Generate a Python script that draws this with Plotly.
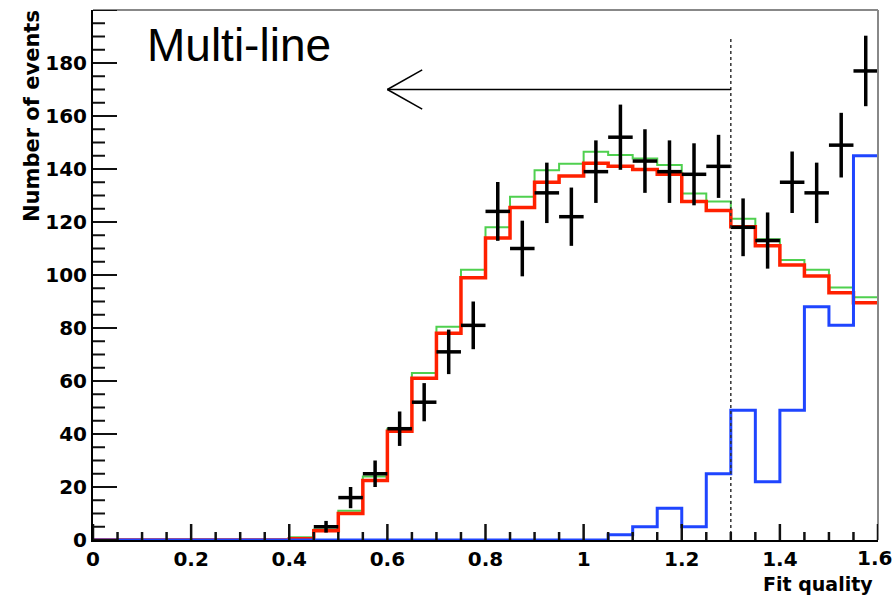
import numpy as np
import plotly.graph_objects as go

# ---------------- data ----------------
bin_edges = [round(i * 0.05, 2) for i in range(33)]  # 0.00 ... 1.60

green_counts = [0, 0, 0, 0, 0, 0, 0, 0,
                1, 4, 11, 24, 42, 63, 80.5, 102, 118, 129.5, 139.5, 142,
                146.5, 145.3, 144, 141.5, 130.8, 127.7, 121.2, 113.5, 105.7, 102, 95.3, 91.6]
red_counts = [0, 0, 0, 0, 0, 0, 0, 0,
              0.5, 3.5, 10, 22.5, 41, 61, 78, 99, 114, 125.5, 135, 137.4,
              142.2, 141, 139.8, 138, 127.7, 124.3, 118.2, 111, 103.8, 99.6, 93.3, 89.5]
blue_counts = [0, 0, 0, 0, 0, 0, 0, 0, 0, 0, 0, 0, 0, 0, 0, 0, 0, 0, 0, 0, 0,
               2, 5, 12, 5, 25, 49, 22, 49, 88, 81, 145]

data_x = [0.475, 0.525, 0.575, 0.625, 0.675, 0.725, 0.775, 0.825, 0.875, 0.925, 0.975,
          1.025, 1.075, 1.125, 1.175, 1.225, 1.275, 1.325, 1.375, 1.425, 1.475, 1.525, 1.575]
data_y = [5, 16, 25, 42, 52, 71, 81, 124, 110, 131, 122,
          139, 152, 143, 139, 138, 141, 118, 113, 135, 131, 149, 177]
data_err = [2.2, 4, 5, 6.5, 7.2, 8.4, 9, 11.1, 10.5, 11.4, 11,
            11.8, 12.3, 12, 11.8, 11.7, 11.9, 10.9, 10.6, 11.6, 11.4, 12.2, 13.3]
half_bin = 0.025

x_tickvals = [0, 0.2, 0.4, 0.6, 0.8, 1.0, 1.2, 1.4]
x_ticktext = ["0", "0.2", "0.4", "0.6", "0.8", "1", "1.2", "1.4"]
last_x_label = "1.6"
y_tickvals = [0, 20, 40, 60, 80, 100, 120, 140, 160, 180]

cut_value = 1.3
cut_top = 190
arrow_y = 170
arrow_tip = 0.6
arrow_head_dx = 0.071
arrow_head_dy = 7.4

title_text = "Multi-line"
x_title = "Fit quality"
y_title = "Number of events"

X_RANGE = [0, 1.6]
Y_RANGE = [0, 200]

# ---------------- figure ----------------
def step_xy(counts):
    return bin_edges, list(counts) + [counts[-1]]

fig = go.Figure()

for counts, color, width in [(green_counts, "#4fd04f", 2),
                             (red_counts, "#ff2000", 3.5),
                             (blue_counts, "#1f45ff", 3)]:
    sx, sy = step_xy(counts)
    fig.add_trace(go.Scatter(x=sx, y=sy, mode="lines", line_shape="hv",
                             line=dict(color=color, width=width),
                             showlegend=False, hoverinfo="skip"))

fig.add_trace(go.Scatter(
    x=data_x, y=data_y, mode="markers",
    marker=dict(size=1, color="black"),
    error_x=dict(type="constant", value=half_bin, color="black", thickness=3.5, width=0),
    error_y=dict(type="data", array=data_err, color="black", thickness=3.5, width=0),
    showlegend=False))

axis_font = dict(family="DejaVu Sans", size=20, color="black", weight="bold")

fig.update_xaxes(range=X_RANGE, tickmode="array", automargin=False,
                 tickvals=x_tickvals, ticktext=x_ticktext,
                 ticks="", showline=True, linecolor="black", linewidth=2,
                 showgrid=False, zeroline=False, tickfont=axis_font)
fig.update_yaxes(range=Y_RANGE, tickmode="array", tickvals=y_tickvals, automargin=False,
                 ticks="", showline=True, linecolor="black", linewidth=2,
                 showgrid=False, zeroline=False, tickfont=axis_font)

shapes = [
    # frame top/right
    dict(type="line", xref="paper", yref="paper", x0=0, x1=1, y0=1, y1=1,
         line=dict(color="#888888", width=2)),
    dict(type="line", xref="paper", yref="paper", x0=1, x1=1, y0=0, y1=1,
         line=dict(color="#888888", width=2)),
    # cut line
    dict(type="line", xref="x", yref="y", x0=cut_value, x1=cut_value, y0=0, y1=cut_top,
         line=dict(color="#333333", width=1.5, dash="dot")),
    # arrow
    dict(type="line", xref="x", yref="y", x0=cut_value, x1=arrow_tip, y0=arrow_y, y1=arrow_y,
         line=dict(color="black", width=1.5)),
    dict(type="line", xref="x", yref="y", x0=arrow_tip, x1=arrow_tip + arrow_head_dx,
         y0=arrow_y, y1=arrow_y + arrow_head_dy, line=dict(color="black", width=1.5)),
    dict(type="line", xref="x", yref="y", x0=arrow_tip, x1=arrow_tip + arrow_head_dx,
         y0=arrow_y, y1=arrow_y - arrow_head_dy, line=dict(color="black", width=1.5)),
]

# ROOT-style inside tick marks (major + minor)
plot_w, plot_h = 785, 530
y_per_px = (Y_RANGE[1] - Y_RANGE[0]) / plot_h
x_per_px = (X_RANGE[1] - X_RANGE[0]) / plot_w
for v in bin_edges:
    major = abs(v / 0.2 - round(v / 0.2)) < 1e-6
    shapes.append(dict(type="line", xref="x", yref="y", x0=v, x1=v, y0=0,
                       y1=(16 if major else 8) * y_per_px,
                       line=dict(color="#111111", width=2.5), layer="above"))
for v in [i * 5 for i in range(41)]:
    major = v % 20 == 0
    shapes.append(dict(type="line", xref="x", yref="y", x0=0,
                       x1=(24 if major else 12) * x_per_px, y0=v, y1=v,
                       line=dict(color="#111111", width=2), layer="above"))

annotations = [
    dict(text=title_text, xref="paper", yref="paper", x=(145 - 93) / 785, y=(540 - 45) / 530,
         xanchor="left", yanchor="middle", showarrow=False,
         font=dict(family="Liberation Sans", size=46, color="black")),
    dict(text=last_x_label, xref="paper", yref="paper", x=(894 - 93) / 785, y=-(558 - 540) / 530,
         xanchor="right", yanchor="middle", showarrow=False, font=axis_font),
    dict(text=x_title, xref="paper", yref="paper", x=0.996, y=-0.083,
         xanchor="right", yanchor="middle", showarrow=False,
         font=dict(family="DejaVu Sans", size=19, color="black", weight="bold")),
    dict(text=y_title, xref="paper", yref="paper", x=(32 - 93) / 785, y=(540 - 116) / 530,
         xanchor="center", yanchor="middle", showarrow=False, textangle=-90,
         font=dict(family="DejaVu Sans", size=21, color="black", weight="bold")),
]

fig.update_layout(width=895, height=598,
                  margin=dict(l=93, r=17, t=10, b=58, autoexpand=False),
                  plot_bgcolor="white", paper_bgcolor="white",
                  shapes=shapes, annotations=annotations, showlegend=False)

fig.write_html("out.html")
